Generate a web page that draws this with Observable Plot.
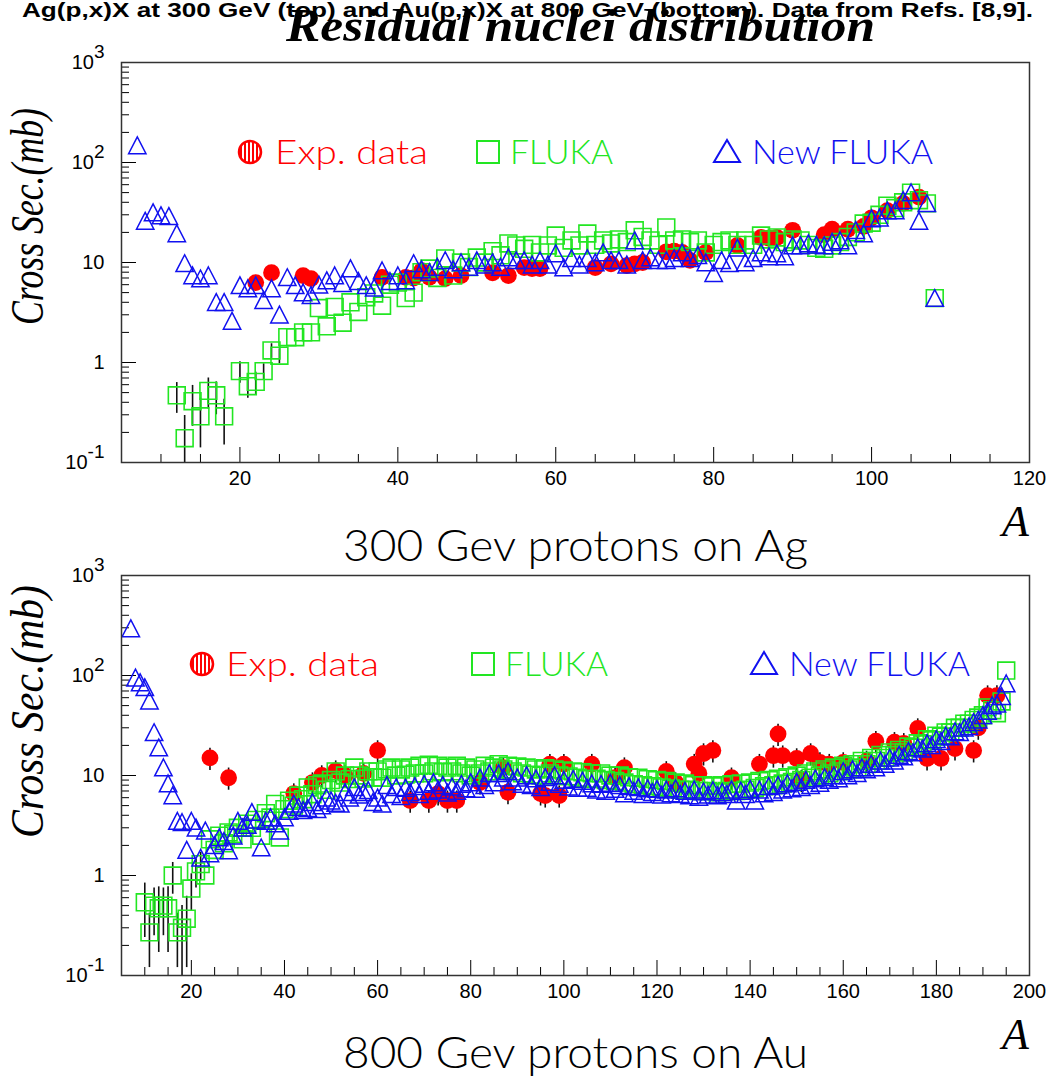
<!DOCTYPE html>
<html><head><meta charset="utf-8">
<script src="https://cdn.jsdelivr.net/npm/d3@7"></script>
<script src="https://cdn.jsdelivr.net/npm/@observablehq/plot@0.6"></script>
<style>
body{margin:0;background:#fff;}
#root{position:relative;width:1056px;height:1079px;overflow:hidden;background:#fff;}
#root svg{position:absolute;left:0;}
</style></head><body><div id="root"></div>
<script>
// ---------------- DATA ----------------
// Top panel: 300 GeV p + Ag
const topExpA = [22,24,28,29,38,41,42,43,44,46,48,52,54,56,57,58,65,67,69,70,71,74,75,76,77,79,83,86,87,88,90,94,95,97,99,100,102,104,106];
const topExpV = [6.3,7.9,7.4,6.9,7.1,7.1,7.0,8.3,7.1,6.9,7.4,7.9,7.4,8.9,8.7,8.7,8.9,9.7,9.3,9.7,10,12.8,13,12.6,10.5,12.6,14.8,17.8,17.5,17.8,21,19,21.5,21.5,23,28,33,39,45];
const topExpRelErr = 0.1;

const topFlukaA0 = 12; // first A of the FLUKA list
const topFlukaV = [0.47,0.175,0.41,0.29,0.52,0.47,0.29,null,0.82,0.58,
  0.64,0.82,1.32,1.17,1.79,1.79,2.0,2.0,3.5,2.3,
  3.6,2.5,4.0,3.2,4.5,4.9,3.7,6.0,6.3,4.4,
  5.0,8.0,8.7,7.0,11,7.4,10,9.0,11.2,10,
  13,11.8,15.5,14.8,13.7,15,12.6,14.8,18.6,14,
  16.6,14.8,19.5,15,16.6,15.5,17,16,21,18,
  16.6,15,22.4,16.6,17,16,16.6,12.6,15,16,
  16.6,15,16.6,15,18.6,17,17.8,16,17,16.6,
  15,14,13.7,14.8,16,18,20,24.5,25,30,
  37,35,40,50,42,39,4.4];
const topFlukaErrA = [12,13,14,15,16,17,18,20,21,22,23,24,25];
const topFlukaErrV = [0.16,0.12,0.18,0.15,0.18,0.17,0.14,0.2,0.14,0.16,0.15,0.22,0.2];

const topNewA0 = 7;
const topNewV = [148,26,31.6,29.5,29,19.5,9.8,7.4,6.9,7.4,
  4.0,4.0,2.6,5.9,5.5,5.9,4.2,5.5,3.0,7.1,
  5.9,5.0,4.7,6.0,6.6,7.4,6.2,8.7,6.5,5.9,
  5.6,8.3,6.5,7.4,6.6,9.8,8.5,8.0,9.0,10.5,
  8.5,10,9.0,10.5,9.5,10,9.0,11.2,10.5,10.5,
  9.5,10.5,9.5,12.3,8.9,11,9.5,11,10,12.6,
  10.5,10.5,9.5,16.6,10.5,11.2,10.5,10.5,11,12.6,
  11,11.8,10,7.8,10.5,9.8,14,10,11,12.6,
  11.5,12.3,11.5,14.8,14.8,15.5,15,14.8,16,16.6,
  14.8,21,19.5,27.5,28,33,33,42,50,26,
  39,4.4];

// Bottom panel: 800 GeV p + Au
const botExpA = [24,28,42,46,48,51,53,57,60,67,71,73,75,77,82,87,88,95,96,97,99,100,106,111,113,122,124,128,129,130,132,136,142,145,146,147,150,151,153,155,157,160,165,167,171,173,176,178,181,184,188,189,191,193];
const botExpV = [15,9.5,6.6,8.5,10,11.2,10,10.5,17.8,5.6,5.6,6.6,5.6,5.6,8.5,12,6.8,6.6,6.3,13,6.3,13,13,9.5,12,11,8.5,13,10.5,16.6,17.8,9.5,13,15.8,26,15.8,14.8,9,16.6,13.5,13,13.5,14,22,21.5,21,29.5,14.8,14.8,18.6,17.8,30,63,63];
const botExpRelErr = 0.25;

const botFlukaA0 = 10;
const botFlukaV = [0.54,0.27,0.5,0.47,0.5,0.47,1.0,0.27,0.3,0.37,
  0.74,1.1,1.3,1.0,2.3,1.8,2.5,2.1,2.7,2.6,
  3.0,2.3,3.3,3.0,3.6,2.5,4.2,3.8,5.2,2.4,
  4.6,5.6,5.0,6.3,5.8,7.6,6.5,8.0,8.3,7.2,
  9.0,11,8.5,10,9.2,12,10,9.3,11,9.6,
  11,9.5,11.5,12,10,11.5,10.2,12,10.5,12.5,
  10.5,12.8,11,12.5,10.8,12,11,12.5,10.5,12,
  10,11.5,10.5,12.5,11,12,13,11.5,12.5,11,
  12.3,10.5,12,10.2,11.5,10,11.8,10.5,11.5,10,
  11.2,9.8,11,9.5,10.8,9.2,10.5,9.3,10.5,9.0,
  10,8.8,10,8.5,9.6,8.2,9.5,8.0,9.2,7.8,
  9.0,7.6,8.8,7.4,8.5,7.2,8.3,7.2,8.0,7.0,
  8.0,7.0,7.8,6.8,8.0,7.0,8.2,7.0,8.3,7.2,
  8.5,7.5,8.8,7.8,9.0,8.0,9.3,8.3,9.6,8.6,
  10,9.0,10.5,9.5,11,10,11.5,10.5,12,11,
  12.5,11.5,13,12,14,13,15,14,16,15,
  17,16,18,17,19.5,19,21,20.5,23,22.5,
  25,24.5,27,27,30,30,33,33,36,38,
  40,48,45,42,55,112];
const botFlukaErrA = [10,11,12,13,14,15,16,17,18,19,20,21,22];
const botFlukaErrV = [0.3,0.15,0.25,0.3,0.25,0.3,0.35,0.15,0.2,0.25,0.3,0.35,0.4];

const botNewA0 = 7;
const botNewV = [295,95,85,76,56,27,19,12,8.3,6.3,
  3.5,3.4,1.8,3.5,3.0,1.5,2.8,1.66,2.0,2.4,
  2.2,1.78,2.5,3.5,3.0,3.2,4.3,3.6,1.9,3.5,
  3.8,3.3,2.8,3.8,4.4,5.2,4.8,4.5,4.7,5.4,
  4.6,5.0,6.0,5.6,5.3,5.2,6.8,6.0,7.6,6.4,
  6.8,7.1,5.4,6.0,5.2,8.0,6.5,7.6,6.2,7.5,
  6.8,7.8,6.5,8.2,7.0,8.5,7.2,8.0,6.7,7.7,
  7.0,8.2,7.4,8.5,7.3,9.5,8.0,10.5,8.5,10.5,
  9.5,11,8.7,9.5,8.2,10,8.0,9.3,7.6,9.6,
  8.6,10,8.2,9.0,7.7,9.2,7.5,8.8,7.5,8.3,
  7.2,8.2,7.0,8.4,7.3,8.0,6.6,7.8,7.0,7.6,
  6.5,7.4,6.8,7.3,6.4,7.2,6.6,7.4,6.5,7.0,
  6.3,7.2,6.1,6.9,6.4,7.1,6.3,6.8,6.5,7.2,
  5.6,7.0,6.5,7.3,5.6,7.2,6.6,7.8,6.8,8.0,
  7.2,8.3,7.4,8.6,7.6,9.0,8.0,9.3,8.4,9.6,
  9.0,10,9.3,11,10,11.5,10.5,12,11.5,13,
  12,14,13,15,14,16,15.5,17.5,17,19,
  18.5,21,20,23,22,25,24.5,27.5,27,30,
  31,34,36,40,44,50,52,62,83];

const yDecades = [0.1, 1, 10, 100, 1000];
const yLabels = ["10^-1", "1", "10", "10^2", "10^3"];
const topXLabels = [20, 40, 60, 80, 100, 120];
const botXLabels = [20, 40, 60, 80, 100, 120, 140, 160, 180, 200];

// ---------------- HELPERS ----------------
const seq = (a0, vals) => vals.map((v, i) => ({A: a0 + i, v})).filter(d => d.v != null);
const pairs = (A, V) => A.map((a, i) => ({A: a, v: V[i]}));

const RED = "#ff0000", GREEN = "#22e622", BLUE = "#1111f0";
const tri = {draw(ctx) { ctx.moveTo(0, -8.6); ctx.lineTo(8.7, 8.2); ctx.lineTo(-8.7, 8.2); ctx.closePath(); }};

function makePanel({xDomain, xMajor, exp, expRelErr, fluka, flukaErr, nf}) {
  const W = 1056, H = 480, mL = 121, mR = 27, mT = 20, mB = 60;
  const fw = W - mL - mR, fh = H - mT - mB;
  const xMinor = d3.range(10, xDomain[1] + 0.1, 5).filter(d => !xMajor.includes(d));
  const yMinor = [];
  for (const d of [0.1, 1, 10, 100]) for (let k = 2; k <= 9; k++) yMinor.push(d * k);
  const expErr = exp.map(d => ({A: d.A, lo: d.v * (1 - expRelErr), hi: d.v * (1 + expRelErr)}));
  const flErr = flukaErr.map(d => {
    const f = fluka.find(e => e.A === d.A);
    return {A: d.A, lo: Math.max(f.v - d.v, 0.01), hi: f.v + d.v};
  });
  const fmt = d => yLabels[yDecades.indexOf(d)];
  const svg = Plot.plot({
    width: W, height: H, marginLeft: mL, marginRight: mR, marginTop: mT, marginBottom: mB,
    style: {fontFamily: "'Liberation Sans', Arial, sans-serif", fontSize: "20px", background: "transparent", color: "black"},
    x: {domain: xDomain},
    y: {type: "log", domain: [0.1, 1000]},
    marks: [
      Plot.ruleX(xMinor, {x: d => d, insetTop: fh - 8, stroke: "black", strokeWidth: 1}),
      Plot.ruleX(xMajor, {x: d => d, insetTop: fh - 15, stroke: "black", strokeWidth: 1}),
      Plot.ruleY(yMinor, {y: d => d, insetRight: fw - 8, stroke: "black", strokeWidth: 1}),
      Plot.ruleY(yDecades, {y: d => d, insetRight: fw - 15, stroke: "black", strokeWidth: 1}),
      Plot.axisX({ticks: xMajor, tickSize: 0, tickPadding: 8, label: null, fontSize: 20}),
      Plot.axisY({ticks: yDecades, tickSize: 0, tickPadding: 17, label: null, tickFormat: fmt, fontSize: 20}),
      Plot.ruleX(expErr, {x: "A", y1: "lo", y2: "hi", stroke: "#111", strokeWidth: 1.6, clip: true}),
      Plot.ruleX(flErr, {x: "A", y1: "lo", y2: "hi", stroke: "#111", strokeWidth: 1.6, clip: true}),
      Plot.dot(exp, {x: "A", y: "v", r: 8.4, fill: RED, stroke: "none"}),
      Plot.dot(fluka, {x: "A", y: "v", symbol: "square", r: 9.5, fill: "none", stroke: GREEN, strokeWidth: 1.6}),
      Plot.dot(nf, {x: "A", y: "v", symbol: tri, fill: "none", stroke: BLUE, strokeWidth: 1.5}),
      Plot.frame({stroke: "#333", strokeWidth: 1.5})
    ]
  });
  d3.select(svg).selectAll('g[aria-label="y-axis tick label"] text').each(function () {
    const t = this.textContent;
    if (t.includes("^")) {
      const [b, e] = t.split("^");
      this.textContent = "";
      d3.select(this).append("tspan").text(b);
      d3.select(this).append("tspan").attr("dy", "-0.55em").style("font-size", "19px").text(e);
    }
  });
  return svg;
}

const root = document.getElementById("root");
const topSvg = makePanel({
  xDomain: [5, 120], xMajor: topXLabels,
  exp: pairs(topExpA, topExpV), expRelErr: topExpRelErr,
  fluka: seq(topFlukaA0, topFlukaV), flukaErr: pairs(topFlukaErrA, topFlukaErrV),
  nf: seq(topNewA0, topNewV)
});
topSvg.style.top = "42px";
root.appendChild(topSvg);

const botSvg = makePanel({
  xDomain: [5, 200], xMajor: botXLabels,
  exp: pairs(botExpA, botExpV), expRelErr: botExpRelErr,
  fluka: seq(botFlukaA0, botFlukaV), flukaErr: pairs(botFlukaErrA, botFlukaErrV),
  nf: seq(botNewA0, botNewV)
});
botSvg.style.top = "555px";
root.appendChild(botSvg);

// ---------------- TEXT OVERLAY ----------------
const ov = d3.create("svg").attr("width", 1056).attr("height", 1079).style("top", "0px").style("pointer-events", "none");
const defs = ov.append("defs");
const pat = defs.append("pattern").attr("id", "hatch").attr("patternUnits", "userSpaceOnUse").attr("width", 4).attr("height", 4);
pat.append("rect").attr("width", 4).attr("height", 4).attr("fill", "white");
pat.append("rect").attr("width", 2).attr("height", 4).attr("fill", RED);

function txt(x, y, s, opts) {
  const t = ov.append("text").attr("x", x).attr("y", y).text(s);
  for (const k in opts) t.attr(k, opts[k]);
  return t;
}
const serifIt = "'Liberation Serif', 'Times New Roman', serif";
const thin = "Lato, 'Open Sans', 'DejaVu Sans', sans-serif";

txt(22, 17, "Ag(p,x)X at 300 GeV (top) and Au(p,x)X at 800 GeV (bottom). Data from Refs. [8,9].",
  {"font-family": "'Liberation Sans', Arial, sans-serif", "font-weight": "bold", "font-size": 20, textLength: 1011, lengthAdjust: "spacingAndGlyphs"});
txt(286, 41, "Residual nuclei distribution",
  {"font-family": serifIt, "font-weight": "bold", "font-style": "italic", "font-size": 46, textLength: 589, lengthAdjust: "spacingAndGlyphs"});

function ylab(x, y, len) {
  ov.append("text").attr("transform", `translate(${x},${y}) rotate(-90)`).text("Cross Sec.(mb)")
    .attr("font-family", serifIt).attr("font-style", "italic").attr("font-size", 46)
    .attr("textLength", len).attr("lengthAdjust", "spacingAndGlyphs");
}
ylab(43, 325, 217);
ylab(43, 838, 253);

txt(1002, 536, "A", {"font-family": serifIt, "font-style": "italic", "font-size": 44});
txt(1002, 1049, "A", {"font-family": serifIt, "font-style": "italic", "font-size": 44});

txt(343, 561, "300 Gev protons on Ag", {"font-family": thin, "font-weight": 300, "font-size": 44, textLength: 465, lengthAdjust: "spacingAndGlyphs"});
txt(343, 1068, "800 Gev protons on Au", {"font-family": thin, "font-weight": 300, "font-size": 44, textLength: 465, lengthAdjust: "spacingAndGlyphs"});

function legend(y, cx, sx, tx, xs) {
  ov.append("circle").attr("cx", cx).attr("cy", y).attr("r", 11).attr("fill", "url(#hatch)").attr("stroke", RED).attr("stroke-width", 2.5);
  ov.append("rect").attr("x", sx - 11).attr("y", y - 11).attr("width", 22).attr("height", 22).attr("fill", "none").attr("stroke", GREEN).attr("stroke-width", 2);
  ov.append("path").attr("d", `M${tx},${y - 12}L${tx + 13},${y + 10}L${tx - 13},${y + 10}Z`).attr("fill", "none").attr("stroke", BLUE).attr("stroke-width", 2);
  const o = {"font-family": thin, "font-weight": 300, "font-size": 34, lengthAdjust: "spacingAndGlyphs"};
  txt(xs[0], y + 12, "Exp. data", {...o, fill: RED, textLength: 153});
  txt(xs[1], y + 12, "FLUKA", {...o, fill: GREEN, textLength: 103});
  txt(xs[2], y + 12, "New FLUKA", {...o, fill: BLUE, textLength: 181});
}
legend(152, 250, 488, 727, [275, 510, 752]);
legend(664, 202, 483, 764, [226, 505, 789]);

root.appendChild(ov.node());
</script>
</body></html>
